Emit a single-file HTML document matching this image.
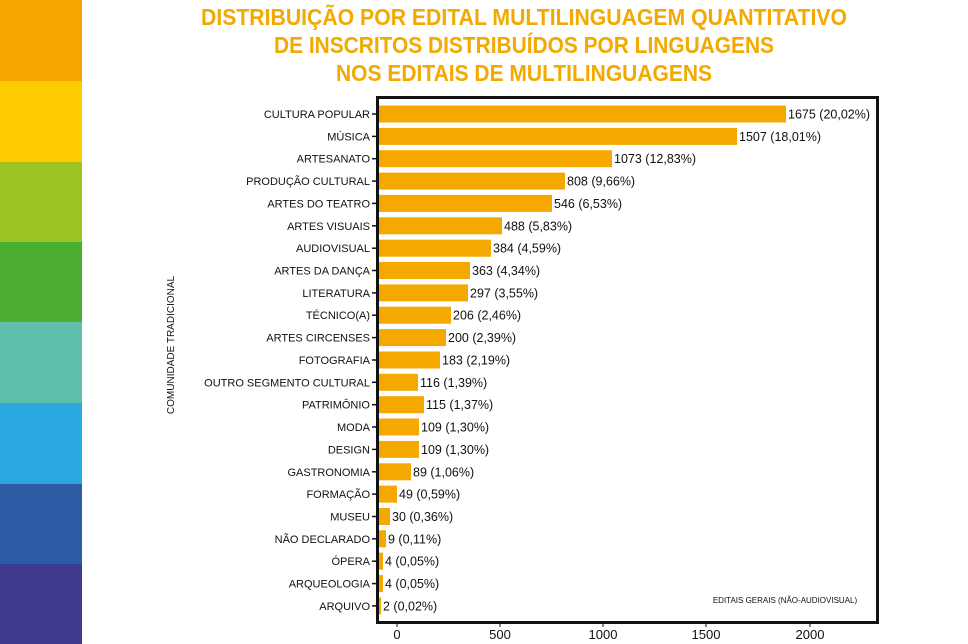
<!DOCTYPE html>
<html><head><meta charset="utf-8"><style>
html,body{margin:0;padding:0;background:#fff;}
svg{display:block;font-family:"Liberation Sans",sans-serif;}
.b{fill:#F5A800}
.c{font-size:11px;text-anchor:end;fill:#111}
.v{font-size:12.5px;fill:#111}
</style></head><body>
<svg width="968" height="644" viewBox="0 0 968 644" xmlns="http://www.w3.org/2000/svg">
<rect width="968" height="644" fill="#fff"/>
<rect x="0" y="0" width="82" height="81" fill="#F5A500"/>
<rect x="0" y="81" width="82" height="81" fill="#FDCB00"/>
<rect x="0" y="162" width="82" height="80" fill="#9CC425"/>
<rect x="0" y="242" width="82" height="80" fill="#4BAE33"/>
<rect x="0" y="322" width="82" height="81" fill="#5FBFAD"/>
<rect x="0" y="403" width="82" height="81" fill="#2CA8E1"/>
<rect x="0" y="484" width="82" height="80" fill="#2D5CA6"/>
<rect x="0" y="564" width="82" height="80" fill="#3F3A8E"/>
<g fill="#F2A900" font-weight="bold" font-size="23" text-anchor="middle">
<text x="524" y="25" textLength="646" lengthAdjust="spacingAndGlyphs">DISTRIBUIÇÃO POR EDITAL MULTILINGUAGEM QUANTITATIVO</text>
<text x="524" y="53" textLength="500" lengthAdjust="spacingAndGlyphs">DE INSCRITOS DISTRIBUÍDOS POR LINGUAGENS</text>
<text x="524" y="81" textLength="376" lengthAdjust="spacingAndGlyphs">NOS EDITAIS DE MULTILINGUAGENS</text>
</g>
<text transform="translate(174,345) rotate(-90)" font-size="10" text-anchor="middle" fill="#111">COMUNIDADE TRADICIONAL</text>
<g stroke="#111" stroke-width="1.5">
<line x1="372" x2="377" y1="114" y2="114"/><line x1="372" x2="377" y1="136.4" y2="136.4"/><line x1="372" x2="377" y1="158.7" y2="158.7"/><line x1="372" x2="377" y1="181.1" y2="181.1"/><line x1="372" x2="377" y1="203.4" y2="203.4"/><line x1="372" x2="377" y1="225.8" y2="225.8"/><line x1="372" x2="377" y1="248.2" y2="248.2"/><line x1="372" x2="377" y1="270.5" y2="270.5"/><line x1="372" x2="377" y1="292.9" y2="292.9"/><line x1="372" x2="377" y1="315.2" y2="315.2"/><line x1="372" x2="377" y1="337.6" y2="337.6"/><line x1="372" x2="377" y1="360" y2="360"/><line x1="372" x2="377" y1="382.3" y2="382.3"/><line x1="372" x2="377" y1="404.7" y2="404.7"/><line x1="372" x2="377" y1="427" y2="427"/><line x1="372" x2="377" y1="449.4" y2="449.4"/><line x1="372" x2="377" y1="471.8" y2="471.8"/><line x1="372" x2="377" y1="494.1" y2="494.1"/><line x1="372" x2="377" y1="516.5" y2="516.5"/><line x1="372" x2="377" y1="538.8" y2="538.8"/><line x1="372" x2="377" y1="561.2" y2="561.2"/><line x1="372" x2="377" y1="583.6" y2="583.6"/><line x1="372" x2="377" y1="605.9" y2="605.9"/>
</g>
<g transform="translate(0,114)"><rect class="b" x="378" y="-8.5" width="408" height="17"/><text class="c" x="370" y="4">CULTURA POPULAR</text><text class="v" x="788" y="4.5">1675 (20,02%)</text></g>
<g transform="translate(0,136.4)"><rect class="b" x="378" y="-8.5" width="359" height="17"/><text class="c" x="370" y="4">MÚSICA</text><text class="v" x="739" y="4.5">1507 (18,01%)</text></g>
<g transform="translate(0,158.7)"><rect class="b" x="378" y="-8.5" width="234" height="17"/><text class="c" x="370" y="4">ARTESANATO</text><text class="v" x="614" y="4.5">1073 (12,83%)</text></g>
<g transform="translate(0,181.1)"><rect class="b" x="378" y="-8.5" width="187" height="17"/><text class="c" x="370" y="4">PRODUÇÃO CULTURAL</text><text class="v" x="567" y="4.5">808 (9,66%)</text></g>
<g transform="translate(0,203.4)"><rect class="b" x="378" y="-8.5" width="174" height="17"/><text class="c" x="370" y="4">ARTES DO TEATRO</text><text class="v" x="554" y="4.5">546 (6,53%)</text></g>
<g transform="translate(0,225.8)"><rect class="b" x="378" y="-8.5" width="124" height="17"/><text class="c" x="370" y="4">ARTES VISUAIS</text><text class="v" x="504" y="4.5">488 (5,83%)</text></g>
<g transform="translate(0,248.2)"><rect class="b" x="378" y="-8.5" width="113" height="17"/><text class="c" x="370" y="4">AUDIOVISUAL</text><text class="v" x="493" y="4.5">384 (4,59%)</text></g>
<g transform="translate(0,270.5)"><rect class="b" x="378" y="-8.5" width="92" height="17"/><text class="c" x="370" y="4">ARTES DA DANÇA</text><text class="v" x="472" y="4.5">363 (4,34%)</text></g>
<g transform="translate(0,292.9)"><rect class="b" x="378" y="-8.5" width="90" height="17"/><text class="c" x="370" y="4">LITERATURA</text><text class="v" x="470" y="4.5">297 (3,55%)</text></g>
<g transform="translate(0,315.2)"><rect class="b" x="378" y="-8.5" width="73" height="17"/><text class="c" x="370" y="4">TÉCNICO(A)</text><text class="v" x="453" y="4.5">206 (2,46%)</text></g>
<g transform="translate(0,337.6)"><rect class="b" x="378" y="-8.5" width="68" height="17"/><text class="c" x="370" y="4">ARTES CIRCENSES</text><text class="v" x="448" y="4.5">200 (2,39%)</text></g>
<g transform="translate(0,360)"><rect class="b" x="378" y="-8.5" width="62" height="17"/><text class="c" x="370" y="4">FOTOGRAFIA</text><text class="v" x="442" y="4.5">183 (2,19%)</text></g>
<g transform="translate(0,382.3)"><rect class="b" x="378" y="-8.5" width="40" height="17"/><text class="c" x="370" y="4">OUTRO SEGMENTO CULTURAL</text><text class="v" x="420" y="4.5">116 (1,39%)</text></g>
<g transform="translate(0,404.7)"><rect class="b" x="378" y="-8.5" width="46" height="17"/><text class="c" x="370" y="4">PATRIMÔNIO</text><text class="v" x="426" y="4.5">115 (1,37%)</text></g>
<g transform="translate(0,427)"><rect class="b" x="378" y="-8.5" width="41" height="17"/><text class="c" x="370" y="4">MODA</text><text class="v" x="421" y="4.5">109 (1,30%)</text></g>
<g transform="translate(0,449.4)"><rect class="b" x="378" y="-8.5" width="41" height="17"/><text class="c" x="370" y="4">DESIGN</text><text class="v" x="421" y="4.5">109 (1,30%)</text></g>
<g transform="translate(0,471.8)"><rect class="b" x="378" y="-8.5" width="33" height="17"/><text class="c" x="370" y="4">GASTRONOMIA</text><text class="v" x="413" y="4.5">89 (1,06%)</text></g>
<g transform="translate(0,494.1)"><rect class="b" x="378" y="-8.5" width="19" height="17"/><text class="c" x="370" y="4">FORMAÇÃO</text><text class="v" x="399" y="4.5">49 (0,59%)</text></g>
<g transform="translate(0,516.5)"><rect class="b" x="378" y="-8.5" width="12" height="17"/><text class="c" x="370" y="4">MUSEU</text><text class="v" x="392" y="4.5">30 (0,36%)</text></g>
<g transform="translate(0,538.8)"><rect class="b" x="378" y="-8.5" width="8" height="17"/><text class="c" x="370" y="4">NÃO DECLARADO</text><text class="v" x="388" y="4.5">9 (0,11%)</text></g>
<g transform="translate(0,561.2)"><rect class="b" x="378" y="-8.5" width="5" height="17"/><text class="c" x="370" y="4">ÓPERA</text><text class="v" x="385" y="4.5">4 (0,05%)</text></g>
<g transform="translate(0,583.6)"><rect class="b" x="378" y="-8.5" width="5" height="17"/><text class="c" x="370" y="4">ARQUEOLOGIA</text><text class="v" x="385" y="4.5">4 (0,05%)</text></g>
<g transform="translate(0,605.9)"><rect class="b" x="378" y="-8.5" width="3" height="17"/><text class="c" x="370" y="4">ARQUIVO</text><text class="v" x="383" y="4.5">2 (0,02%)</text></g>
<rect x="377.5" y="97.5" width="500" height="525" fill="none" stroke="#111" stroke-width="3"/>
<text x="785" y="603" font-size="8" text-anchor="middle" fill="#111">EDITAIS GERAIS (NÃO-AUDIOVISUAL)</text>
<g font-size="13" fill="#111" text-anchor="middle">
<line x1="397" y1="622" x2="397" y2="627" stroke="#111"/><text x="397" y="639">0</text>
<line x1="500" y1="622" x2="500" y2="627" stroke="#111"/><text x="500" y="639">500</text>
<line x1="603" y1="622" x2="603" y2="627" stroke="#111"/><text x="603" y="639">1000</text>
<line x1="706" y1="622" x2="706" y2="627" stroke="#111"/><text x="706" y="639">1500</text>
<line x1="810" y1="622" x2="810" y2="627" stroke="#111"/><text x="810" y="639">2000</text>
</g>
</svg>
</body></html>
